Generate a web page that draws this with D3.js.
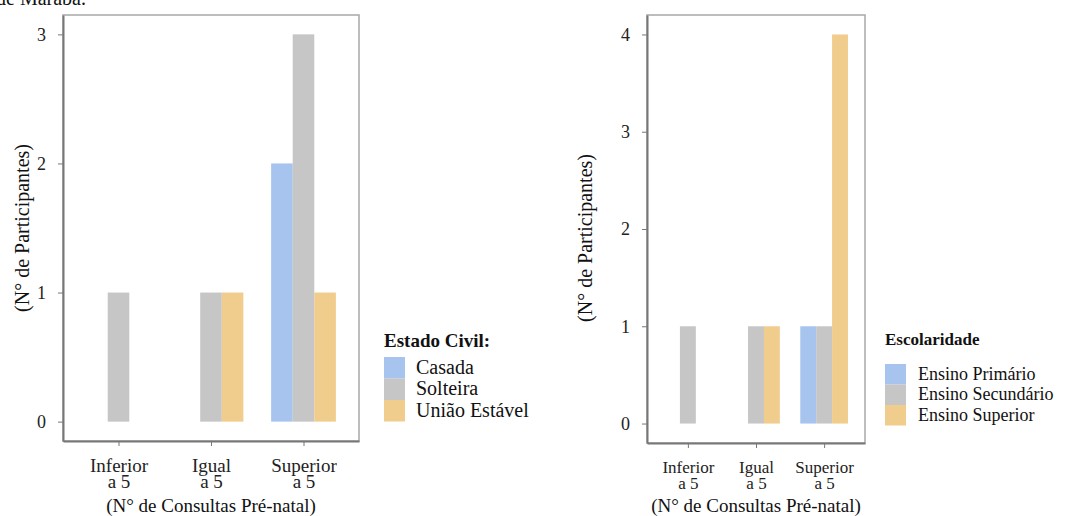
<!DOCTYPE html>
<html lang="pt">
<head>
<meta charset="UTF-8">
<title>Consultas pré-natal</title>
<script src="https://cdn.jsdelivr.net/npm/d3@7"></script>
<style>
    body { margin: 0; background: #fff; }
    svg { display: block; }
    svg text { font-family: "Liberation Serif", "Times New Roman", serif; }
    .axis path, .axis line { stroke: #777; }
    .axis text { fill: #222; font-family: "Liberation Serif", "Times New Roman", serif; }
</style>
</head>
<body>
<div id="chart"></div>
<script>
// categorias do eixo x
var consultas = ["Inferior", "Igual", "Superior"];
var consultasLinha2 = ["a 5", "a 5", "a 5"];

// painel esquerdo: estado civil
var estadoCivil = ["Casada", "Solteira", "União Estável"];
var casada = [0, 0, 2];
var solteira = [1, 1, 3];
var uniaoEstavel = [0, 1, 1];

// painel direito: escolaridade
var escolaridade = ["Ensino Primário", "Ensino Secundário", "Ensino Superior"];
var ensinoPrimario = [0, 0, 1];
var ensinoSecundario = [1, 1, 1];
var ensinoSuperior = [0, 1, 4];

var yTicksEsq = [0, 1, 2, 3];
var yTicksDir = [0, 1, 2, 3, 4];

var cores = ["#a7c4ef", "#c6c6c6", "#f0cd8d"];

var svg = d3.select("#chart").append("svg")
    .attr("width", 1071)
    .attr("height", 516);

// resto da legenda da figura anterior, cortado no topo
svg.append("text")
    .attr("x", -4)
    .attr("y", 5)
    .style("font-size", "20px")
    .style("fill", "#111")
    .text("de Marabá.");

function painel(opt)
{
    var g = svg.append("g");

    var x = d3.scalePoint()
        .domain(consultas)
        .range([opt.left, opt.right])
        .padding(0.6);

    var step = x.step();
    var xs = d3.scaleBand()
        .domain(opt.series)
        .range([-0.35 * step, 0.35 * step]);

    var y = d3.scaleLinear()
        .domain([-opt.ymax * 0.05, opt.ymax * 1.05])
        .range([opt.bottom, opt.top]);

    // moldura
    g.append("rect")
        .attr("x", opt.left)
        .attr("y", opt.top)
        .attr("width", opt.right - opt.left)
        .attr("height", opt.bottom - opt.top)
        .attr("fill", "none")
        .attr("stroke", "#a8a8a8")
        .attr("stroke-width", 1.5);

    var rows = [];
    opt.values.forEach(function(vals, j)
    {
        vals.forEach(function(v, i)
        {
            rows.push({ cat: consultas[i], serie: opt.series[j], valor: v, cor: cores[j] });
        });
    });

    g.selectAll("rect.bar")
        .data(rows)
        .enter()
        .append("rect")
        .attr("class", "bar")
        .attr("x", function(d) { return x(d.cat) + xs(d.serie); })
        .attr("width", xs.bandwidth())
        .attr("y", function(d) { return y(d.valor); })
        .attr("height", function(d) { return y(0) - y(d.valor); })
        .attr("fill", function(d) { return d.cor; });

    var yAxis = g.append("g")
        .attr("class", "axis")
        .attr("transform", "translate(" + opt.left + ",0)")
        .call(d3.axisLeft(y).tickValues(opt.yticks).tickFormat(d3.format("d")).tickSize(5).tickPadding(12).tickSizeOuter(0));
    yAxis.select(".domain").attr("stroke", "#777").attr("stroke-width", 2);
    yAxis.selectAll(".tick text").style("font-size", "18px");

    var xAxis = g.append("g")
        .attr("class", "axis")
        .attr("transform", "translate(0," + opt.bottom + ")")
        .call(d3.axisBottom(x).tickSize(5).tickPadding(13).tickSizeOuter(0));
    xAxis.select(".domain").attr("stroke", "#777").attr("stroke-width", 2);

    xAxis.selectAll(".tick text")
        .text(null)
        .style("font-size", opt.tickFont + "px")
        .each(function(d, i)
        {
            var t = d3.select(this);
            t.append("tspan").attr("x", 0).attr("dy", "0.71em").text(d);
            t.append("tspan").attr("x", 0).attr("dy", opt.tickLine).text(consultasLinha2[i]);
        });

    // títulos dos eixos
    g.append("text")
        .attr("transform", "translate(" + opt.ytitleX + "," + opt.ytitleY + ") rotate(-90)")
        .attr("text-anchor", "middle")
        .attr("dy", "0.35em")
        .style("font-size", "20px")
        .style("fill", "#111")
        .text("(N° de Participantes)");

    g.append("text")
        .attr("x", (opt.left + opt.right) / 2)
        .attr("y", 512)
        .attr("text-anchor", "middle")
        .style("font-size", "19px")
        .style("fill", "#111")
        .text("(N° de Consultas Pré-natal)");

    // legenda
    var leg = g.append("g").attr("transform", "translate(" + opt.legX + "," + opt.legY + ")");
    leg.append("text")
        .attr("x", 0)
        .attr("y", 0)
        .style("font-size", opt.legTitleFont + "px")
        .style("font-weight", "bold")
        .style("fill", "#111")
        .text(opt.legTitle);

    var item = leg.selectAll("g.item")
        .data(opt.series)
        .enter()
        .append("g")
        .attr("class", "item")
        .attr("transform", function(d, i) { return "translate(0," + (opt.keyTop + i * opt.keyStep) + ")"; });
    item.append("rect")
        .attr("width", 21)
        .attr("height", opt.keyStep)
        .attr("fill", function(d, i) { return cores[i]; });
    item.append("text")
        .attr("x", opt.labelX)
        .attr("y", opt.keyStep / 2)
        .attr("dy", "0.3em")
        .style("font-size", opt.legFont + "px")
        .style("fill", "#111")
        .text(function(d) { return d; });
}

painel({
    left: 63, right: 359, top: 15, bottom: 441,
    ymax: 3, yticks: yTicksEsq,
    series: estadoCivil,
    values: [casada, solteira, uniaoEstavel],
    tickFont: 19, tickLine: "0.84em",
    ytitleX: 22, ytitleY: 228,
    legTitle: "Estado Civil:", legX: 384, legY: 347, legTitleFont: 19,
    keyTop: 10, keyStep: 21.5, labelX: 32, legFont: 20
});

painel({
    left: 647, right: 865, top: 15, bottom: 443,
    ymax: 4, yticks: yTicksDir,
    series: escolaridade,
    values: [ensinoPrimario, ensinoSecundario, ensinoSuperior],
    tickFont: 17, tickLine: "0.92em",
    ytitleX: 585, ytitleY: 238,
    legTitle: "Escolaridade", legX: 885, legY: 345, legTitleFont: 17,
    keyTop: 19, keyStep: 20.5, labelX: 33, legFont: 18
});
</script>
</body>
</html>
